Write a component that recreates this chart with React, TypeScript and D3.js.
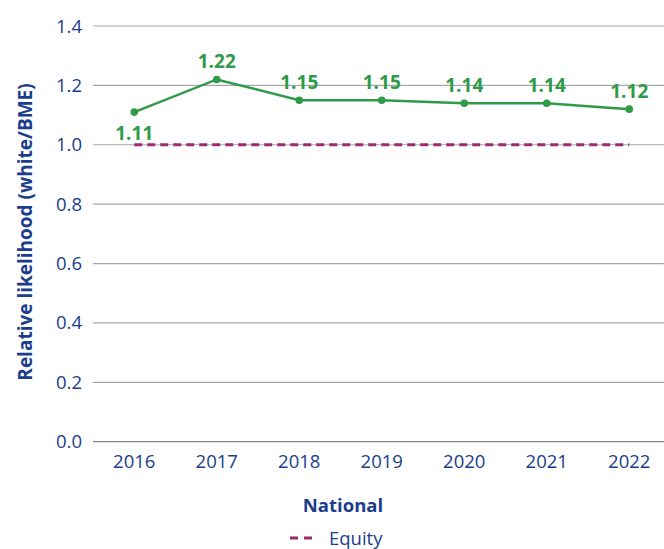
import React from 'react';
import * as d3 from 'd3';

const width = 664;
const height = 549;

const years = ['2016', '2017', '2018', '2019', '2020', '2021', '2022'];
const likelihood = [1.11, 1.22, 1.15, 1.15, 1.14, 1.14, 1.12];
const equityValue = 1.0;
const yTicks = [0, 0.2, 0.4, 0.6, 0.8, 1.0, 1.2, 1.4];

const margin = { top: 26, right: 0, bottom: 108, left: 93 };
const navy = '#1b3d8c';
const green = '#2f9a48';
const purple = '#9c2a6f';
const font = '"Open Sans", "Noto Sans", sans-serif';

export default function App() {
  const x = d3.scalePoint<string>()
    .domain(years)
    .range([margin.left, 670.5])
    .padding(0.5);

  const y = d3.scaleLinear()
    .domain([0, 1.4])
    .range([height - margin.bottom + 0.7, margin.top]);

  const line = d3.line<number>()
    .x((_, i) => x(years[i]) as number)
    .y((d) => y(d));

  return (
    <svg width={width} height={height} style={{ position: 'absolute', left: 0, top: 0 }}>
      <rect width={width} height={height} fill="white" />
      {/* grid + y ticks */}
      {yTicks.map((t) => (
        <g key={t}>
          <line x1={margin.left} x2={width} y1={y(t)} y2={y(t)}
            stroke={t === 0 ? '#7d848c' : '#a3a8b0'} strokeWidth={1.2} />
          <text x={82} y={y(t) + 6.5} textAnchor="end" fill={navy}
            fontFamily={font} fontSize={18.5}>{t.toFixed(1)}</text>
        </g>
      ))}
      {/* x ticks */}
      {years.map((yr) => (
        <text key={yr} x={x(yr)} y={468} textAnchor="middle" fill={navy}
          fontFamily={font} fontSize={18.5}>{yr}</text>
      ))}
      {/* equity line */}
      <line x1={x(years[0])} x2={x(years[years.length - 1])} y1={y(equityValue)} y2={y(equityValue)}
        stroke={purple} strokeWidth={2.8} strokeDasharray="8,5" />
      {/* series */}
      <path d={line(likelihood) || ''} fill="none" stroke={green} strokeWidth={2.5} />
      {likelihood.map((v, i) => (
        <g key={i}>
          <circle cx={x(years[i])} cy={y(v)} r={3.8} fill={green} />
          <text x={x(years[i])} y={i === 0 ? y(v) + 28 : y(v) - 11} textAnchor="middle"
            fill={green} fontFamily={font} fontWeight="bold" fontSize={19}>{v.toFixed(2)}</text>
        </g>
      ))}
      {/* axis titles */}
      <text transform={`translate(32,232) rotate(-90)`} textAnchor="middle" fill={navy}
        fontFamily={font} fontWeight="bold" fontSize={19}>Relative likelihood (white/BME)</text>
      <text x={343} y={512} textAnchor="middle" fill={navy} fontFamily={font}
        fontWeight="bold" fontSize={18.5}>National</text>
      {/* legend */}
      <line x1={290} x2={313} y1={538} y2={538} stroke={purple} strokeWidth={2.8} strokeDasharray="8,6" />
      <text x={329} y={545} fill={navy} fontFamily={font} fontSize={18.5}>Equity</text>
    </svg>
  );
}
